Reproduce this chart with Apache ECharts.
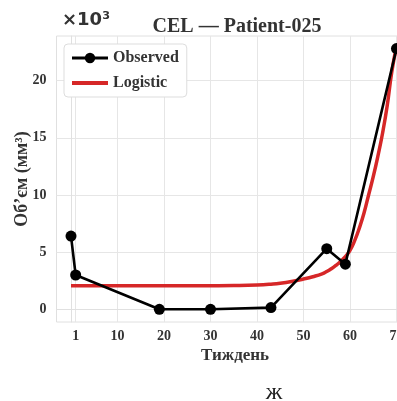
<!DOCTYPE html>
<html><head><meta charset="utf-8">
<script src="https://cdn.jsdelivr.net/npm/echarts@6/dist/echarts.min.js"></script>
<style>html,body{margin:0;padding:0;background:#fff;overflow:hidden}#c{width:414px;height:401px}</style>
</head><body><div id="c"></div>
<script>
// Observed data (volume in thousands of mm³)
const obsWeeks = [0, 1, 19, 30, 43, 55, 59, 70];
const obsVolumes = [6.4, 3.0, 0.0, 0.0, 0.15, 5.3, 3.95, 22.8];
// Logistic fit curve
const fitWeeks = [0, 5, 10, 15, 20, 25, 30, 35, 40, 43, 45, 48, 50, 52, 54, 55, 56, 57, 58, 59, 60, 61, 62, 63, 64, 65, 66, 67, 68, 69, 70];
const fitVolumes = [2.05, 2.05, 2.05, 2.05, 2.05, 2.05, 2.06, 2.08, 2.13, 2.2, 2.28, 2.48, 2.65, 2.85, 3.1, 3.3, 3.55, 3.85, 4.2, 4.6, 5.15, 6.0, 7.1, 8.4, 10.0, 11.6, 13.4, 15.4, 17.8, 20.8, 23.0];
const xTicks = [1, 10, 20, 30, 40, 50, 60, 70];
const yTicks = [0, 5, 10, 15, 20];

const serif = '"Liberation Serif", "DejaVu Serif", serif';
const chart = echarts.init(document.getElementById('c'), null, {renderer: 'canvas'});
const pair = (xs, ys) => xs.map((x, i) => [x, ys[i]]);

chart.setOption({
  animation: false,
  backgroundColor: '#fff',
  title: [
    {text: 'CEL — Patient-025', left: 232, top: 12, textAlign: 'center',
     textStyle: {fontFamily: serif, fontWeight: 'bold', fontSize: 20, color: '#333'}},
    {text: '×10³', left: 57, top: 6,
     textStyle: {fontFamily: '"DejaVu Sans", sans-serif', fontWeight: 'bold', fontSize: 18, color: '#333'}},
    {text: 'ж', left: 269, top: 376, textAlign: 'center',
     textStyle: {fontFamily: serif, fontWeight: 'normal', fontSize: 24, color: '#222'}}
  ],
  legend: {
    left: 64, top: 44, orient: 'vertical',
    backgroundColor: '#fff', borderColor: '#ddd', borderWidth: 1, borderRadius: 4,
    padding: [6, 8, 6, 6], itemGap: 9, itemWidth: 36, itemHeight: 13,
    textStyle: {fontFamily: serif, fontWeight: 'bold', fontSize: 16, color: '#333'},
    data: [
      {name: 'Observed', lineStyle: {width: 3}},
      {name: 'Logistic', itemStyle: {opacity: 0}, lineStyle: {width: 4}}
    ]
  },
  grid: {left: 56.5, top: 36, right: 0.3, bottom: 79, show: true, borderColor: '#e0e0e0', borderWidth: 1,
         containLabel: false, outerBoundsMode: 'none'},
  xAxis: {
    type: 'value', min: -3.12, max: 73.7,
    name: 'Тиждень', nameLocation: 'middle', nameGap: 25, nameMoveOverlap: false,
    nameTextStyle: {fontFamily: serif, fontWeight: 'bold', fontSize: 17, color: '#333'},
    axisLine: {show: true, lineStyle: {color: '#e0e0e0'}},
    axisTick: {show: false, customValues: xTicks},
    axisLabel: {customValues: xTicks, fontFamily: serif, fontWeight: 'bold', fontSize: 14, color: '#333', margin: 7},
    splitLine: {show: true, lineStyle: {color: '#e6e6e6', width: 1}}
  },
  yAxis: {
    type: 'value', min: -1.11, max: 23.9,
    name: 'Об’єм (мм³)', nameLocation: 'middle', nameGap: 25, nameRotate: 90, nameMoveOverlap: false,
    nameTextStyle: {fontFamily: serif, fontWeight: 'bold', fontSize: 18, color: '#333'},
    axisLine: {show: true, lineStyle: {color: '#e0e0e0'}},
    axisTick: {show: false, customValues: yTicks},
    axisLabel: {customValues: yTicks, fontFamily: serif, fontWeight: 'bold', fontSize: 14, color: '#333', margin: 10},
    splitLine: {show: true, lineStyle: {color: '#e6e6e6', width: 1}}
  },
  series: [
    {name: 'Observed', type: 'line', data: pair(obsWeeks, obsVolumes),
     symbol: 'circle', symbolSize: 11, showAllSymbol: true,
     lineStyle: {color: '#000', width: 2.6}, itemStyle: {color: '#000'}, z: 3},
    {name: 'Logistic', type: 'line', data: pair(fitWeeks, fitVolumes), smooth: true,
     symbol: 'none', lineStyle: {color: '#d62728', width: 3.5}, itemStyle: {color: '#d62728'}, z: 2}
  ]
});
</script></body></html>
